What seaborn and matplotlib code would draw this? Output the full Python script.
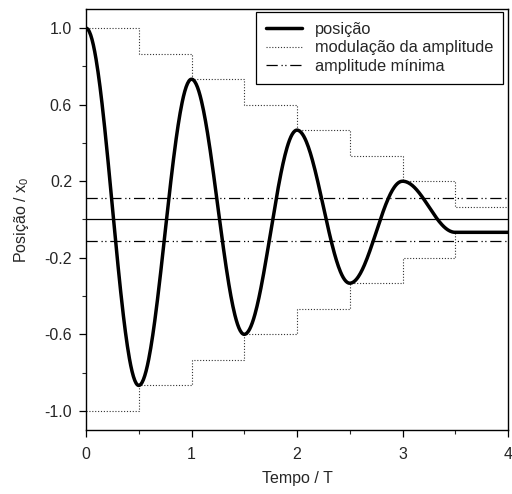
import numpy as np
import pandas as pd
import matplotlib
matplotlib.use("Agg")
import matplotlib.pyplot as plt
import seaborn as sns
from matplotlib.ticker import MultipleLocator, FormatStrFormatter

# ---- data ----
turn_times = [0.0, 0.5, 1.0, 1.5, 2.0, 2.5, 3.0, 3.5, 4.0]           # times of turning points (T)
turn_positions = [1.0, -0.867, 0.733, -0.6, 0.467, -0.333, 0.2, -0.067, -0.067]
env_times = [0.0, 0.5, 1.0, 1.5, 2.0, 2.5, 3.0, 3.5, 4.0]
env_values = [1.0, 0.867, 0.733, 0.6, 0.467, 0.333, 0.2, 0.067, 0.067]
min_amplitude = 0.11
x_ticks = [0, 1, 2, 3, 4]
y_ticks = [1.0, 0.6, 0.2, -0.2, -0.6, -1.0]

# position curve: half-cosine swings between successive turning points
ts, xs = [], []
for i in range(len(turn_times) - 1):
    t0, t1 = turn_times[i], turn_times[i + 1]
    a, b = turn_positions[i], turn_positions[i + 1]
    tt = np.linspace(t0, t1, 80)
    if abs(a - b) < 1e-9:
        xx = np.full_like(tt, a)
    else:
        c = (a + b) / 2
        xx = c + (a - c) * np.cos(np.pi * (tt - t0) / (t1 - t0))
    ts.extend(tt)
    xs.extend(xx)
pos_df = pd.DataFrame({"t": ts, "x": xs})
env_df = pd.DataFrame({"t": env_times, "up": env_values,
                       "low": [-v for v in env_values]})

sns.set_style("ticks")
plt.rcParams["font.family"] = ["Liberation Sans", "DejaVu Sans"]
plt.rcParams["font.size"] = 11.5

fig = plt.figure(figsize=(5.12, 4.94), dpi=100)
ax = fig.add_axes([86 / 512, 1 - 430 / 494, (508 - 86) / 512, (430 - 9) / 494])

dot = (0, (1, 1.6))
sns.lineplot(data=env_df, x="t", y="up", ax=ax, color="#333333", lw=0.8,
             linestyle=dot, drawstyle="steps-post", estimator=None,
             label="modulação da amplitude", zorder=2)
sns.lineplot(data=env_df, x="t", y="low", ax=ax, color="#333333", lw=0.8,
             linestyle=dot, drawstyle="steps-post", estimator=None,
             label="_nolegend_", zorder=2)
ax.axhline(0, color="black", lw=0.9, zorder=1)
dd = (0, (9, 3, 1, 2, 1, 3))
ax.axhline(min_amplitude, color="black", lw=0.9, linestyle=dd, zorder=1,
           label="amplitude mínima")
ax.axhline(-min_amplitude, color="black", lw=0.9, linestyle=dd, zorder=1)
sns.lineplot(data=pos_df, x="t", y="x", ax=ax, color="black", lw=2.5,
             estimator=None, sort=False, label="posição", zorder=3)

ax.set_xlim(0, 4)
ax.set_ylim(-1.1, 1.1)
ax.set_xticks(x_ticks)
ax.set_yticks(y_ticks)
ax.yaxis.set_major_formatter(FormatStrFormatter("%.1f"))
ax.xaxis.set_minor_locator(MultipleLocator(0.5))
ax.yaxis.set_minor_locator(MultipleLocator(0.2))
ax.tick_params(which="major", direction="out", length=5, width=0.9,
               labelsize=11.5, color="black")
ax.tick_params(which="minor", direction="out", length=3, width=0.8)
ax.tick_params(axis="x", pad=7)
ax.tick_params(axis="y", pad=5)
for s in ax.spines.values():
    s.set_visible(True)
    s.set_linewidth(1.0)
    s.set_color("black")

ax.set_xlabel("Tempo / T", fontsize=11.5, labelpad=7)
ax.set_ylabel("Posição / $\\mathregular{x_0}$", fontsize=11.5, labelpad=10)

h, l = ax.get_legend_handles_labels()
order = [l.index("posição"), l.index("modulação da amplitude"),
         l.index("amplitude mínima")]
leg = ax.legend([h[i] for i in order], [l[i] for i in order],
                loc="upper right", bbox_to_anchor=(503 / 512, 1 - 12 / 494),
                bbox_transform=fig.transFigure, borderaxespad=0,
                fontsize=11.8, handlelength=2.2, handletextpad=0.8,
                labelspacing=0.22, borderpad=0.6, fancybox=False,
                framealpha=1, edgecolor="black")
leg.get_frame().set_linewidth(0.9)

fig.savefig("out.png", dpi=100)
